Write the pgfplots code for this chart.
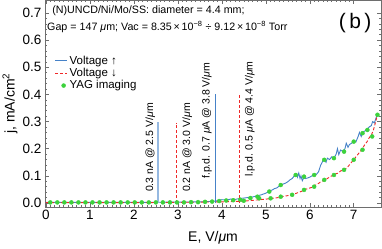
\documentclass[border=0pt]{standalone}
\usepackage{fontspec}
\setmainfont{Liberation Sans}
\usepackage{pgfplots}
\pgfplotsset{compat=1.18}
\definecolor{cblue}{RGB}{70,130,200}
\definecolor{lblue}{RGB}{150,185,225}
\definecolor{cred}{RGB}{240,40,40}
\definecolor{cgreen}{RGB}{60,210,60}
\definecolor{fgray}{RGB}{110,110,110}
\newcommand{\mum}{{\itshape μ}m}
\newcommand{\muA}{{\itshape μ}A}
\begin{document}
\begin{tikzpicture}
\begin{axis}[
  scale only axis, width=336pt, height=207pt,
  xmin=-0.02, xmax=7.62, ymin=-0.015, ymax=0.748,
  xtick={0,1,2,3,4,5,6,7},
  ytick={0,0.1,0.2,0.3,0.4,0.5,0.6,0.7},
  yticklabel style={/pgf/number format/.cd, fixed, fixed zerofill, precision=1},
  /pgf/number format/assume math mode=true,
  ticklabel style={font=\fontsize{13.5}{15}\selectfont},
  minor x tick num=9, minor y tick num=4,
  tick align=inside,
  major tick length=4pt, minor tick length=2pt,
  axis line style={fgray, line width=0.8pt},
  tick style={fgray, line width=0.5pt},
  xlabel={E, V/\mum},
  ylabel={j, mA/cm\textsuperscript{2}},
  label style={font=\fontsize{14}{16}\selectfont},
  xlabel style={at={(axis description cs:0.5,-0.15)}, anchor=center},
  ylabel style={at={(axis description cs:-0.104,0.5)}, anchor=center},
  legend style={draw=none, fill=none, at={(axis description cs:0.025,0.745)}, anchor=north west,
    font=\fontsize{11.5}{13}\selectfont, row sep=-1.5pt, inner sep=1pt},
  legend cell align=left,
  clip=true,
]
% Voltage up (blue)
\addplot[draw=cblue, line width=0.9pt, legend image code/.code={\draw[draw=cblue, line width=0.9pt] (0pt,0pt) -- (12pt,0pt);}] coordinates {
(0,0.002) (1,0.002) (2,0.002) (3,0.003) (3.5,0.004) (3.8,0.006) (3.9,0.008) (4.0,0.012) (4.1,0.011) (4.2,0.014) (4.3,0.013) (4.4,0.016) (4.5,0.018) (4.6,0.02) (4.7,0.022) (4.8,0.026) (4.9,0.03) (5.0,0.036) (5.05,0.04) (5.1,0.045) (5.15,0.048) (5.2,0.053) (5.25,0.055) (5.3,0.062) (5.35,0.066) (5.4,0.07) (5.45,0.073) (5.5,0.078) (5.55,0.085) (5.6,0.09) (5.65,0.1) (5.7,0.108) (5.72,0.095) (5.75,0.11) (5.78,0.09) (5.8,0.1) (5.83,0.082) (5.87,0.095) (5.9,0.09) (5.95,0.092) (6.0,0.095) (6.05,0.1) (6.1,0.104) (6.15,0.105) (6.2,0.115) (6.25,0.14) (6.3,0.155) (6.33,0.16) (6.37,0.15) (6.4,0.165) (6.45,0.16) (6.5,0.17) (6.55,0.165) (6.6,0.18) (6.63,0.2) (6.66,0.178) (6.7,0.195) (6.75,0.19) (6.8,0.2) (6.83,0.22) (6.87,0.205) (6.9,0.215) (6.95,0.22) (7.0,0.23) (7.05,0.225) (7.1,0.245) (7.13,0.26) (7.17,0.245) (7.2,0.26) (7.25,0.265) (7.3,0.27) (7.35,0.28) (7.4,0.285) (7.43,0.3) (7.47,0.295) (7.5,0.31) (7.54,0.328)
};
\addlegendentry{Voltage ↑}
% Voltage down (red)
\addplot[draw=cred, line width=0.9pt, dash pattern=on 3pt off 2pt, legend image code/.code={\draw[draw=cred, line width=1pt, dash pattern=on 3pt off 2pt] (0pt,0pt) -- (12pt,0pt);}] coordinates {
(0,0.001) (1,0.001) (2,0.001) (3,0.002) (4,0.004) (4.4,0.006) (4.6,0.008) (4.8,0.011) (5.0,0.014) (5.1,0.016) (5.2,0.018) (5.3,0.02) (5.4,0.024) (5.5,0.027) (5.6,0.03) (5.7,0.036) (5.8,0.042) (5.9,0.05) (6.0,0.055) (6.1,0.06) (6.15,0.068) (6.2,0.072) (6.25,0.078) (6.3,0.082) (6.35,0.084) (6.4,0.09) (6.45,0.095) (6.5,0.1) (6.55,0.102) (6.6,0.108) (6.65,0.11) (6.7,0.118) (6.75,0.12) (6.8,0.125) (6.85,0.13) (6.9,0.14) (6.95,0.15) (7.0,0.16) (7.05,0.17) (7.1,0.18) (7.15,0.19) (7.2,0.2) (7.25,0.215) (7.3,0.225) (7.35,0.24) (7.4,0.25) (7.45,0.27) (7.5,0.3) (7.54,0.325)
};
\addlegendentry{Voltage ↓}
% YAG imaging (green dots)
\addplot[color=cgreen, only marks, mark=*, mark size=2pt, mark options={solid, draw=cgreen, fill=cgreen}] coordinates {
(0.1,0.002) (0.26,0.002) (0.42,0.002) (0.58,0.002) (0.74,0.002) (0.9,0.002) (1.06,0.002) (1.22,0.002) (1.38,0.002) (1.54,0.002) (1.7,0.002) (1.86,0.002) (2.02,0.002) (2.18,0.002) (2.34,0.002) (2.5,0.002) (2.66,0.002) (2.82,0.002) (2.98,0.002) (3.14,0.002) (3.3,0.003) (3.46,0.003) (3.62,0.004) (3.78,0.005) (3.94,0.007) (4.1,0.009) (4.26,0.010) (4.42,0.012)
(4.5,0.008) (4.65,0.018) (4.85,0.017) (4.81,0.023) (5.08,0.042) (5.34,0.066) (5.68,0.103) (5.87,0.097) (6.1,0.103) (6.33,0.159) (6.55,0.165) (6.78,0.189) (7.0,0.226) (7.2,0.257) (7.31,0.269) (7.54,0.325)
(5.11,0.017) (5.34,0.023) (5.6,0.03) (5.87,0.048) (6.1,0.06) (6.33,0.085) (6.55,0.103) (6.78,0.122) (7.0,0.159) (7.2,0.196) (7.42,0.245)
};
\addlegendentry{YAG imaging}
% marker lines
\addplot[draw=lblue, line width=1.3pt, forget plot] coordinates {(2.55,0) (2.55,0.30)};
\addplot[draw=cred, line width=1pt, dash pattern=on 3pt off 2pt, forget plot] coordinates {(2.98,0) (2.98,0.295)};
\addplot[draw=cblue, line width=1pt, forget plot] coordinates {(3.85,0) (3.85,0.40)};
\addplot[draw=cred, line width=1pt, dash pattern=on 3pt off 2pt, forget plot] coordinates {(4.40,0) (4.40,0.40)};
% annotations
\node[rotate=90, anchor=south west, inner sep=1pt, font=\fontsize{10.5}{12}\selectfont] at (axis cs:2.51,0.036) {0.3 nA @ 2.5 V/\mum};
\node[rotate=90, anchor=north west, inner sep=1pt, font=\fontsize{10.5}{12}\selectfont] at (axis cs:3.08,0.036) {0.2 nA @ 3.0 V/\mum};
\node[rotate=90, anchor=south west, inner sep=1pt, font=\fontsize{10.5}{12}\selectfont] at (axis cs:3.80,0.085) {f.p.d. 0.7 \muA\ @ 3.8 V/\mum};
\node[rotate=90, anchor=north west, inner sep=1pt, font=\fontsize{10.5}{12}\selectfont] at (axis cs:4.50,0.092) {l.p.d. 0.5 \muA\ @ 4.4 V/\mum};
% header text
\node[anchor=west, inner sep=0pt, font=\fontsize{10.7}{12}\selectfont] at (axis description cs:0.021,0.947) {(N)UNCD/Ni/Mo/SS: diameter = 4.4 mm;};
\node[anchor=west, inner sep=0pt, font=\fontsize{10.7}{12}\selectfont] at (axis description cs:0.006,0.870) {Gap = 147 \mum; Vac = 8.35\,×\,10\textsuperscript{−8} ÷ 9.12\,×\,10\textsuperscript{−8} Torr};
\node[font=\fontsize{21}{23}\selectfont] at (axis description cs:0.923,0.889) {(\,b\,)};
\end{axis}
\pgfresetboundingbox
\path (current axis.south west) ++(-45pt,-41pt) rectangle ([xshift=1pt]current axis.north east);
\end{tikzpicture}
\end{document}
